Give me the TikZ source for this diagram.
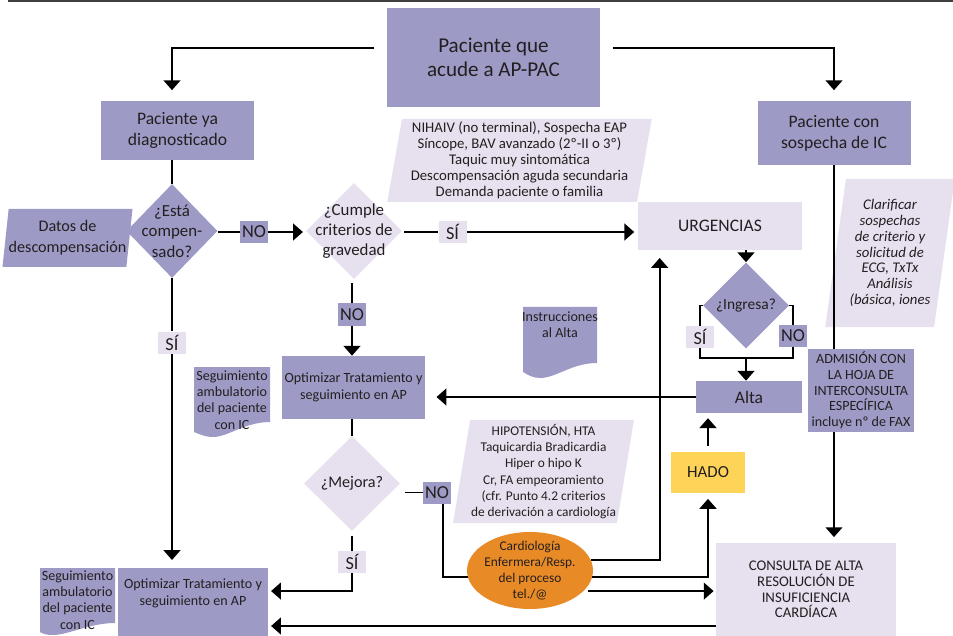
\documentclass[tikz,border=0pt]{standalone}
\usepackage{fontspec}
\setmainfont{Carlito}
\usetikzlibrary{shapes.geometric}
\usetikzlibrary{arrows.meta}

\definecolor{medp}{RGB}{157,154,198}
\definecolor{lightp}{RGB}{231,225,239}
\definecolor{cardo}{RGB}{232,138,38}
\definecolor{hadoy}{RGB}{253,211,88}
\definecolor{ink}{RGB}{35,31,32}
\newcommand{\pxu}{0.025cm}

\begin{document}
\begin{tikzpicture}[x=0.025cm, y=-0.025cm, text=ink,
        every node/.style={inner sep=0, align=center},
        sz/.style 2 args={minimum width=#1*\pxu, minimum height=#2*\pxu},
        box/.style={rectangle, fill=medp, font=\fontsize{12.5}{15}\selectfont},
        lbox/.style={rectangle, fill=lightp, font=\fontsize{12}{15}\selectfont},
        para/.style={trapezium, trapezium left angle=80, trapezium right angle=100, trapezium stretches=true},
        dia/.style={diamond},
        tag/.style={sz={28}{22}, font=\fontsize{13}{13}\selectfont},
        small/.style={font=\fontsize{10}{11.6}\selectfont}]
            \useasboundingbox (0,0) rectangle (953,636);
            \draw[line width=1.5pt, black!75] (8,1) -- (953,1);

            \fill[medp] (523,307) -- (597,307) -- (597,363) .. controls (572,363) and (556,378) .. (540,378) .. controls (533,378) and (528,375) .. (523,372) -- cycle;
            \fill[medp] (194,367) -- (270,367) -- (270,422) .. controls (245,422) and (228,437) .. (213,437) .. controls (205,437) and (199,434) .. (194,432) -- cycle;
            \fill[medp] (40,568) -- (115,568) -- (115,623) .. controls (90,623) and (68,635) .. (53,635) .. controls (47,635) and (43,634) .. (40,632) -- cycle;

            \node[box, sz={213}{99}, font=\fontsize{15}{17.5}\selectfont] (top) at (493.5, 57.5) {Paciente que\\acude a AP-PAC};
            \node[box, sz={153}{59}]    (diag) at (177.5, 130.5) {Paciente ya\\diagnosticado};
            \node[box, sz={153}{64}]    (sosp) at (834, 133)     {Paciente con\\sospecha de IC};
            \node[para, fill=lightp, sz={265}{83}, font=\fontsize{10.5}{11.4}\selectfont] (crit) at (519.5, 160.5)
                {NIHAIV (no terminal), Sospecha EAP\\Síncope, BAV avanzado (2º-II o 3º)\\Taquic muy sintomática\\Descompensación aguda secundaria\\Demanda paciente o familia};
            \node[para, fill=medp, sz={125}{58}, font=\fontsize{11.5}{15}\selectfont] (datos) at (67.5, 238) {Datos de\\descompensación};
            \node[dia, fill=medp, sz={91}{94},
                label={[align=center, font=\fontsize{12}{14.5}\selectfont]center:{¿Está\\compen-\\sado?}}] (est) at (172, 231) {};
            \node[tag, fill=medp]   (noA) at (254, 232)   {NO};
            \node[dia, fill=lightp, sz={96}{96},
                label={[align=center, font=\fontsize{12}{14.5}\selectfont]center:{¿Cumple\\criterios de\\gravedad}}] (cump) at (354, 231) {};
            \node[tag, fill=lightp] (siA) at (452.5, 232) {SÍ};
            \node[lbox, sz={164}{48}, font=\fontsize{12.5}{15}\selectfont] (urg) at (720, 226) {URGENCIAS};
            \node[para, fill=lightp, sz={130}{148}, font=\fontsize{10.5}{11.3}\selectfont\itshape] (clar) at (890, 253)
                {Clarificar\\sospechas\\de criterio y\\solicitud de\\ECG, TxTx\\Análisis\\(básica, iones};
            \node[dia, fill=medp, sz={86}{86},
                label={[align=center, font=\fontsize{11}{13}\selectfont]center:{¿Ingresa?}}] (ing) at (746, 305.5) {};
            \node[tag, fill=lightp] (siB) at (700, 337)   {SÍ};
            \node[tag, fill=medp]   (noB) at (793, 336)   {NO};
            \coordinate (ingout) at (746, 358);
            \node[box, sz={106}{32}] (alta) at (749, 397) {Alta};
            \node[small] (instr) at (560, 325) {Instrucciones\\al Alta};
            \node[tag, fill=medp]   (noC) at (352, 314.5) {NO};
            \node[tag, fill=lightp] (siC) at (172, 342.5) {SÍ};
            \node[box, sz={143}{63}, font=\fontsize{10}{12}\selectfont] (opt1) at (353.5, 387.5) {Optimizar Tratamiento y\\seguimiento en AP};
            \node[small] (seg1) at (232, 400) {Seguimiento\\ambulatorio\\del paciente\\con IC};
            \node[box, sz={106}{83}, font=\fontsize{10}{11.2}\selectfont] (adm) at (861, 390.5)
                {ADMISIÓN CON\\LA HOJA DE\\INTERCONSULTA\\ESPECÍFICA\\incluye nº de FAX};
            \node[dia, fill=lightp, sz={96}{95},
                label={[align=center, font=\fontsize{11.5}{13}\selectfont]center:{¿Mejora?}}] (mej) at (352, 483.5) {};
            \node[para, fill=lightp, sz={181}{103}, font=\fontsize{9.5}{11.6}\selectfont] (hipo) at (543.5, 471.5)
                {HIPOTENSIÓN, HTA\\Taquicardia Bradicardia\\Hiper o hipo K\\Cr, FA empeoramiento\\(cfr. Punto 4.2 criterios\\de derivación a cardiología};
            \node[tag, fill=medp]   (noD) at (437, 492.5) {NO};
            \node[rectangle, fill=hadoy, sz={74}{41}, font=\fontsize{12}{14}\selectfont] (hado) at (708, 472.5) {HADO};
            \node[tag, fill=lightp] (siD) at (352, 562)   {SÍ};
            \node[ellipse, fill=cardo, sz={126}{77},
                label={[align=center, font=\fontsize{9.5}{11.3}\selectfont]center:{Cardiología\\Enfermera/Resp.\\del proceso\\tel./@}}] (card) at (530, 570.5) {};
            \node[lbox, sz={180}{93}, font=\fontsize{10.5}{11.1}\selectfont] (cons) at (806, 589.5)
                {CONSULTA DE ALTA\\RESOLUCIÓN DE\\INSUFICIENCIA\\CARDÍACA};
            \node[box, sz={150}{68},
                label={[align=center, yshift=6.4pt, font=\fontsize{10}{12}\selectfont]center:{Optimizar Tratamiento y\\seguimiento en AP}}] (opt2) at (193, 602) {};
            \node[small] (seg2) at (77.5, 600) {Seguimiento\\ambulatorio\\del paciente\\con IC};

            \begin{scope}[line width=1.2pt, >={Triangle[width=12pt, length=7pt]}]
                \draw[->, shorten <=9pt, shorten >=7.5pt] ([yshift=6.7pt]top.west) -| (est.north |- diag.north);
                \draw[->, shorten <=9pt, shorten >=7.5pt] ([yshift=6.7pt]top.east) -| (sosp.north);
                \draw (est.north |- diag.south) -- (est.north);
                \draw (noA.west -| est.east) -- (noA.west);
                \draw[->, shorten >=2pt] (noA.east) -- (noA.east -| cump.west);
                \draw[shorten <=1.5pt] (siA.west -| cump.east) -- (siA.west);
                \draw[->, shorten >=2.5pt] (siA.east) -- (siA.east -| urg.west);
                \draw[->] (ing.north |- urg.south) -- (ing.north);
                \draw (ing.west) -| (siB.north);
                \draw (siB.south) |- (ingout) -| (noB.south);
                \draw (noB.north) |- (ing.east);
                \draw[->] (ingout) -- (ingout |- alta.north);
                \draw[->, shorten >=8pt] (alta.west) -- (alta.west -| opt1.east);
                \draw[shorten <=3pt] (noC.north |- cump.south) -- (noC.north);
                \draw[->] (noC.south) -- (noC.south |- opt1.north);
                \draw (est.south) -- (siC.north);
                \draw[->, shorten >=5.5pt] (siC.south) -- (siC.south |- opt2.north);
                \draw (mej.north |- opt1.south) -- (mej.north);
                \draw[shorten <=3pt] (noD.west -| mej.east) -- (noD.west);
                \draw ([xshift=4.5pt]noD.south) |- (card.186);
                \draw[shorten <=3pt] (mej.south) -- (siD.north);
                \draw[->, shorten >=2pt] (siD.south) |- ([yshift=7.8pt]opt2.east);
                \draw[->, shorten >=5.5pt] (card.10) -| ([xshift=15.6pt]urg.south west);
                \draw[->, shorten >=4pt] (card.-6) -| (hado.south);
                \draw[->, shorten <=4pt, shorten >=3.5pt] (hado.north) -- (hado.north |- alta.south);
                \draw[->, shorten <=3pt, shorten >=1.5pt] (card.-21) -- (card.-21 -| cons.west);
                \draw[->, shorten >=2pt] (cons.west |- 0,626) -- (opt2.east |- 0,626);
                \draw (sosp.south) -- (sosp.south |- adm.north);
                \draw[->, shorten >=4pt] (sosp.south |- adm.south) -- (sosp.south |- cons.north);
            \end{scope}
        \end{tikzpicture}
\end{document}
